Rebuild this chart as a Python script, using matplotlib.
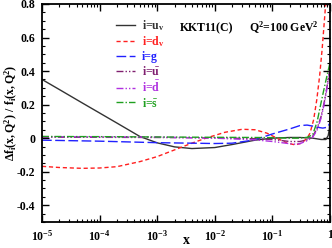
import matplotlib
matplotlib.use("Agg")
import math
import matplotlib.pyplot as plt
from matplotlib.ticker import FixedLocator, FuncFormatter, MultipleLocator, LogLocator, NullFormatter

plt.rcParams['font.family'] = ['Liberation Serif', 'DejaVu Serif']
plt.rcParams['font.weight'] = 'bold'
plt.rcParams['mathtext.fontset'] = 'custom'
plt.rcParams['mathtext.rm'] = 'Liberation Serif:bold'
plt.rcParams['mathtext.it'] = 'Liberation Serif:bold'
plt.rcParams['mathtext.bf'] = 'Liberation Serif:bold'

# ---- data ----
x_uv = [1e-5, 2e-5, 5e-5, 1e-4, 2e-4, 5e-4, 1e-3, 2e-3, 4e-3, 1e-2, 2e-2, 5e-2, 0.1, 0.2, 0.3, 0.5, 0.7, 0.85, 0.93, 0.97, 1.0]
y_uv = [0.35, 0.29, 0.21, 0.15, 0.09, 0.01, -0.028, -0.052, -0.062, -0.056, -0.038, -0.012, 0.0, 0.004, 0.004, 0.0, -0.008, -0.008, 0.015, 0.05, 0.12]

x_dv = [1e-5, 2e-5, 5e-5, 1e-4, 2e-4, 5e-4, 1e-3, 2e-3, 4e-3, 7e-3, 1.5e-2, 3e-2, 5e-2, 0.08, 0.12, 0.18, 0.25, 0.32, 0.4, 0.45, 0.52, 0.59, 0.66, 0.73, 0.82, 0.9]
y_dv = [-0.168, -0.175, -0.18, -0.178, -0.17, -0.14, -0.11, -0.07, -0.03, 0.0, 0.035, 0.053, 0.05, 0.03, 0.0, -0.03, -0.04, -0.03, 0.0, 0.03, 0.11, 0.23, 0.37, 0.53, 0.75, 0.95]

x_g = [1e-5, 1e-4, 1e-3, 1e-2, 2e-2, 4e-2, 6e-2, 0.1, 0.2, 0.3, 0.4, 0.5, 0.6, 0.75, 0.9, 1.0]
y_g = [-0.012, -0.018, -0.027, -0.032, -0.03, -0.015, 0.0, 0.025, 0.055, 0.075, 0.078, 0.072, 0.065, 0.06, 0.065, 0.09]

x_ub = [1e-5, 1e-4, 1e-3, 1e-2, 5e-2, 0.1, 0.2, 0.3, 0.4, 0.5, 0.6, 0.7, 0.8, 0.9, 1.0]
y_ub = [0.006, 0.005, 0.004, 0.002, -0.003, -0.008, -0.02, -0.02, -0.01, 0.01, 0.06, 0.13, 0.22, 0.32, 0.42]

x_db = [1e-5, 1e-4, 1e-3, 1e-2, 5e-2, 0.1, 0.2, 0.25, 0.3, 0.4, 0.5, 0.6, 0.7, 0.8, 0.9, 1.0]
y_db = [0.009, 0.008, 0.006, 0.0, -0.01, -0.02, -0.033, -0.036, -0.033, -0.015, 0.005, 0.05, 0.12, 0.21, 0.31, 0.4]

x_sb = [1e-5, 1e-4, 1e-3, 1e-2, 5e-2, 0.1, 0.2, 0.3, 0.4, 0.5, 0.6, 0.66, 0.75, 0.87, 1.0]
y_sb = [0.01, 0.009, 0.007, 0.005, 0.004, 0.003, 0.0, 0.0, 0.005, 0.02, 0.1, 0.17, 0.26, 0.36, 0.45]

labels = [r'i=u$_\mathbf{v}$', r'i=d$_\mathbf{v}$', 'i=g',
          r'i=$\mathbf{\bar{u}}$', r'i=$\mathbf{\bar{d}}$', r'i=$\mathbf{\bar{s}}$']
colors = ['#333333', '#ff2020', '#2020ff', '#802070', '#b030e0', '#20a020']
styles = ['-', (0, (3, 2)), (0, (7, 2.5)), (0, (5, 1.5, 1, 1.5, 1, 1.5)), (0, (5, 1.5, 1, 1.5, 1, 1.5)), (0, (5, 1.5, 1, 1.5))]

xs = [x_uv, x_dv, x_g, x_ub, x_db, x_sb]
ys = [y_uv, y_dv, y_g, y_ub, y_db, y_sb]

fig = plt.figure(figsize=(3.32, 2.48), dpi=100)
ax = fig.add_axes([42/332, 1-222/248, 288/332, 218/248])

for x, y, c, ls, lab in zip(xs, ys, colors, styles, labels):
    ax.plot(x, y, color=c, ls=ls, lw=1.0, label=lab)

ax.set_xscale('log')
ax.set_xlim(1e-5, 1)
ax.set_ylim(-0.5, 0.8)

ax.yaxis.set_major_locator(FixedLocator([-0.4, -0.2, 0, 0.2, 0.4, 0.6, 0.8]))
ax.yaxis.set_minor_locator(MultipleLocator(0.05))
ax.yaxis.set_major_formatter(FuncFormatter(lambda v, p: '0' if abs(v) < 1e-9 else ('%.1f' % v)))
ax.xaxis.set_major_locator(LogLocator(base=10, numticks=10))
ax.xaxis.set_minor_locator(LogLocator(base=10, subs=range(2, 10), numticks=10))
ax.xaxis.set_minor_formatter(NullFormatter())

def xfmt(v, p):
    e = int(round(math.log10(v)))
    if e == 0:
        return '1'
    return r'$\mathbf{10^{%d}}$' % e
ax.xaxis.set_major_formatter(FuncFormatter(xfmt))

ax.tick_params(which='both', direction='in', top=True, right=True, labelsize=8.5)
ax.tick_params(which='major', length=5, width=1)
ax.tick_params(which='minor', length=2.5, width=0.8)
ax.tick_params(axis='x', which='major', pad=5)
ax.tick_params(axis='y', which='major', pad=5)
for s in ax.spines.values():
    s.set_linewidth(1.3)
for t in ax.get_yticklabels() + ax.get_xticklabels():
    t.set_fontweight('bold')

fig.text(186/332, 1-241/248, 'x', fontsize=10, fontweight='bold', ha='center', va='center')
fig.text(11/332, 1-113/248, r'$\mathbf{\Delta f_i(x,Q^2)\ /\ f_i(x,Q^2)}$', fontsize=8.5,
         rotation=90, ha='center', va='center')

leg = ax.legend(loc='upper left', bbox_to_anchor=(0.22, 0.985), frameon=False, fontsize=8.5,
                handlelength=1.6, handletextpad=0.6, labelspacing=0.15, labelcolor='linecolor')

ax.text(0.48, 0.89, 'KKT11(C)', transform=ax.transAxes, fontsize=8.5, fontweight='bold', va='center')
ax.text(0.72, 0.89, r'Q$^\mathbf{2}$=100 GeV$^\mathbf{2}$', transform=ax.transAxes, fontsize=8.5, fontweight='bold', va='center')

fig.savefig('out.png', dpi=100)
